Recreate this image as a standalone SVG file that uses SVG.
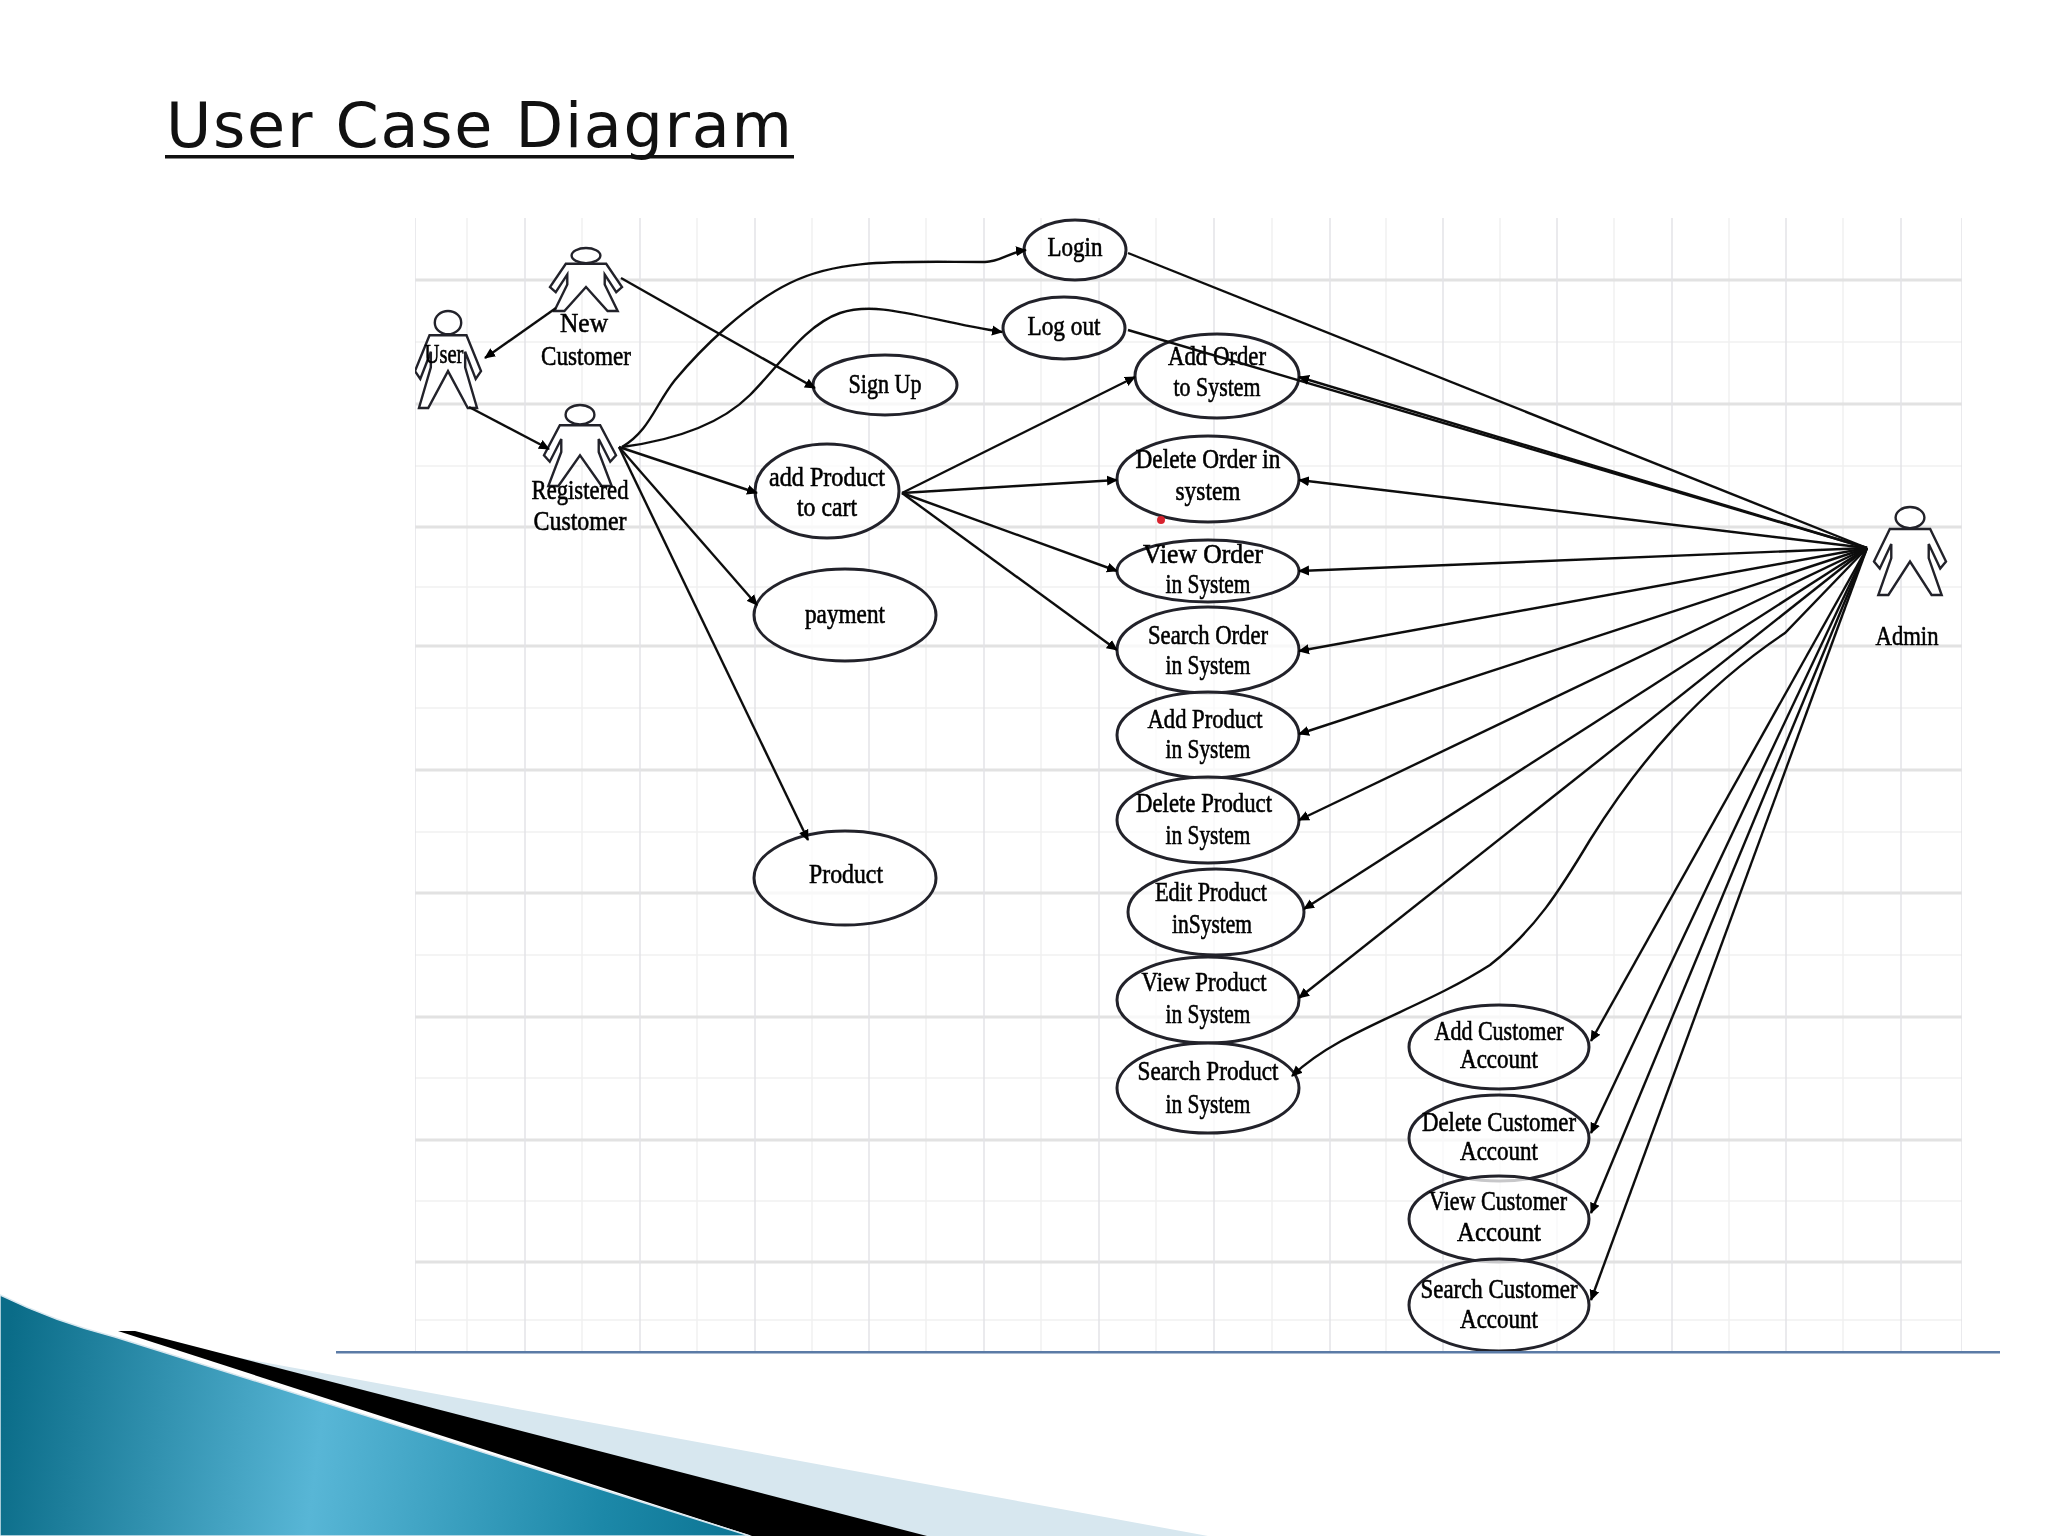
<svg xmlns="http://www.w3.org/2000/svg" width="2048" height="1536" viewBox="0 0 2048 1536">
<style>
.t{font-family:"Liberation Serif","Times New Roman",serif;font-size:28px;fill:#000;stroke:#000;stroke-width:.6;text-anchor:middle}
.u{fill:#fff;fill-opacity:.75;stroke:#22222a;stroke-width:3}
.a{fill:#fff;stroke:#22222a;stroke-width:2.4;vector-effect:non-scaling-stroke}
.c{fill:none;stroke:#111;stroke-width:2.4}
.h{marker-end:url(#ah)}
</style>
<defs>
<marker id="ah" markerUnits="userSpaceOnUse" markerWidth="11" markerHeight="11" refX="10" refY="5.5" orient="auto"><path d="M0,0.5L11,5.5L0,10.5Z" fill="#000"/></marker>
<filter id="soft" x="0" y="0" width="100%" height="100%" filterUnits="objectBoundingBox"><feGaussianBlur stdDeviation="0.7"/></filter>
<linearGradient id="teal" gradientUnits="userSpaceOnUse" x1="0" y1="1400" x2="760" y2="1500"><stop offset="0" stop-color="#0a6c88"/><stop offset=".42" stop-color="#58b6d6"/><stop offset=".8" stop-color="#1c88a8"/><stop offset="1" stop-color="#0b7392"/></linearGradient>
<g id="actor"><ellipse class="a" cx="0" cy="12" rx="20" ry="12"/><path class="a" d="M-28,25L28,25L50,62L42,70L26,42L26,58L44,100L30,100L0,62L-30,100L-44,100L-26,58L-26,42L-42,70L-50,62Z"/></g>
</defs>
<rect width="2048" height="1536" fill="#fff"/>
<text id="title" x="166" y="147" font-family="'DejaVu Sans',Verdana,sans-serif" font-size="62" letter-spacing="1.7" fill="#111">User Case Diagram</text>
<rect x="165" y="155" width="629" height="3.5" fill="#111"/>
<g id="banner">
<path d="M170,1345L1208,1536L920,1536L130,1330Z" fill="#d7e7ef"/>
<path d="M118,1331L135,1331L927,1536L752,1536Z" fill="#000"/>
<path d="M0,1295Q55,1322 115,1337L750,1536L0,1536Z" fill="url(#teal)" stroke="#d7e7ef" stroke-width="1.5"/>
</g>
<g id="slide-figure" filter="url(#soft)">
<g id="grid" fill="none">
<path stroke="#f1f1f1" stroke-width="1.5" d="M415,342H1962M415,466H1962M415,587H1962M415,708H1962M415,832H1962M415,955H1962M415,1078H1962M415,1201H1962M415,1320H1962M467,218V1352M582,218V1352M697,218V1352M812,218V1352M926,218V1352M1041,218V1352M1156,218V1352M1272,218V1352M1386,218V1352M1500,218V1352M1614,218V1352M1729,218V1352M1843,218V1352"/>
<path stroke="#e2e2e2" stroke-width="3" d="M415,280H1962M415,404H1962M415,527H1962M415,646H1962M415,770H1962M415,893H1962M415,1017H1962M415,1140H1962M415,1262H1962"/>
<path stroke="#e4e4e8" stroke-width="1.5" d="M415,218V1352M525,218V1352M640,218V1352M755,218V1352M869,218V1352M984,218V1352M1099,218V1352M1214,218V1352M1330,218V1352M1443,218V1352M1557,218V1352M1672,218V1352M1786,218V1352M1901,218V1352M1962,218V1352"/>
</g>
<g id="node-user"><use href="#actor" transform="translate(448,311) scale(.66,.97)"/><text class="t" x="444" y="363" textLength="39" lengthAdjust="spacingAndGlyphs">User</text></g>
<g id="node-new-customer"><use href="#actor" transform="translate(586,248) scale(.72,.63)"/><text class="t" x="584" y="332" textLength="48" lengthAdjust="spacingAndGlyphs">New</text><text class="t" x="586" y="365" textLength="90" lengthAdjust="spacingAndGlyphs">Customer</text></g>
<g id="node-registered-customer"><use href="#actor" transform="translate(580,405) scale(.72,.81)"/><text class="t" x="580" y="499" textLength="97" lengthAdjust="spacingAndGlyphs">Registered</text><text class="t" x="580" y="530" textLength="93" lengthAdjust="spacingAndGlyphs">Customer</text></g>
<g id="node-admin"><use href="#actor" transform="translate(1910,507) scale(.72,.88)"/><text class="t" x="1907" y="645" textLength="63" lengthAdjust="spacingAndGlyphs">Admin</text></g>
<g id="node-login"><ellipse class="u" cx="1075" cy="250" rx="51" ry="30"/><text class="t" x="1075" y="256" textLength="55" lengthAdjust="spacingAndGlyphs">Login</text></g>
<g id="node-logout"><ellipse class="u" cx="1064" cy="328" rx="61" ry="31"/><text class="t" x="1064" y="335" textLength="73" lengthAdjust="spacingAndGlyphs">Log out</text></g>
<g id="node-signup"><ellipse class="u" cx="885" cy="385" rx="72" ry="30"/><text class="t" x="885" y="393" textLength="73" lengthAdjust="spacingAndGlyphs">Sign Up</text></g>
<g id="node-add-cart"><ellipse class="u" cx="827" cy="491" rx="72" ry="47"/><text class="t" x="827" y="486" textLength="116" lengthAdjust="spacingAndGlyphs">add Product</text><text class="t" x="827" y="516" textLength="60" lengthAdjust="spacingAndGlyphs">to cart</text></g>
<g id="node-payment"><ellipse class="u" cx="845" cy="615" rx="91" ry="46"/><text class="t" x="845" y="623" textLength="80" lengthAdjust="spacingAndGlyphs">payment</text></g>
<g id="node-product"><ellipse class="u" cx="845" cy="878" rx="91" ry="47"/><text class="t" x="846" y="883" textLength="74" lengthAdjust="spacingAndGlyphs">Product</text></g>
<g id="node-add-order"><ellipse class="u" cx="1217" cy="376" rx="82" ry="42"/><text class="t" x="1217" y="365" textLength="98" lengthAdjust="spacingAndGlyphs">Add Order</text><text class="t" x="1217" y="396" textLength="87" lengthAdjust="spacingAndGlyphs">to System</text></g>
<g id="node-delete-order"><ellipse class="u" cx="1208" cy="479" rx="91" ry="43"/><text class="t" x="1208" y="468" textLength="145" lengthAdjust="spacingAndGlyphs">Delete Order in</text><text class="t" x="1208" y="500" textLength="65" lengthAdjust="spacingAndGlyphs">system</text></g>
<g id="node-view-order"><ellipse class="u" cx="1208" cy="571" rx="91" ry="31"/><text class="t" x="1203" y="563" textLength="120" lengthAdjust="spacingAndGlyphs">View Order</text><text class="t" x="1208" y="593" textLength="85" lengthAdjust="spacingAndGlyphs">in System</text></g>
<g id="node-search-order"><ellipse class="u" cx="1208" cy="650" rx="91" ry="43"/><text class="t" x="1208" y="644" textLength="120" lengthAdjust="spacingAndGlyphs">Search Order</text><text class="t" x="1208" y="674" textLength="85" lengthAdjust="spacingAndGlyphs">in System</text></g>
<g id="node-add-product"><ellipse class="u" cx="1208" cy="735" rx="91" ry="43"/><text class="t" x="1205" y="728" textLength="115" lengthAdjust="spacingAndGlyphs">Add Product</text><text class="t" x="1208" y="758" textLength="85" lengthAdjust="spacingAndGlyphs">in System</text></g>
<g id="node-delete-product"><ellipse class="u" cx="1208" cy="820" rx="91" ry="43"/><text class="t" x="1204" y="812" textLength="136" lengthAdjust="spacingAndGlyphs">Delete Product</text><text class="t" x="1208" y="844" textLength="85" lengthAdjust="spacingAndGlyphs">in System</text></g>
<g id="node-edit-product"><ellipse class="u" cx="1216" cy="912" rx="88" ry="43"/><text class="t" x="1211" y="901" textLength="112" lengthAdjust="spacingAndGlyphs">Edit Product</text><text class="t" x="1212" y="933" textLength="80" lengthAdjust="spacingAndGlyphs">inSystem</text></g>
<g id="node-view-product"><ellipse class="u" cx="1208" cy="1000" rx="91" ry="43"/><text class="t" x="1204" y="991" textLength="125" lengthAdjust="spacingAndGlyphs">View Product</text><text class="t" x="1208" y="1023" textLength="85" lengthAdjust="spacingAndGlyphs">in System</text></g>
<g id="node-search-product"><ellipse class="u" cx="1208" cy="1088" rx="91" ry="45"/><text class="t" x="1208" y="1080" textLength="141" lengthAdjust="spacingAndGlyphs">Search Product</text><text class="t" x="1208" y="1113" textLength="85" lengthAdjust="spacingAndGlyphs">in System</text></g>
<g id="node-add-customer"><ellipse class="u" cx="1499" cy="1047" rx="90" ry="42"/><text class="t" x="1499" y="1040" textLength="129" lengthAdjust="spacingAndGlyphs">Add Customer</text><text class="t" x="1499" y="1068" textLength="78" lengthAdjust="spacingAndGlyphs">Account</text></g>
<g id="node-delete-customer"><ellipse class="u" cx="1499" cy="1138" rx="90" ry="43"/><text class="t" x="1499" y="1131" textLength="154" lengthAdjust="spacingAndGlyphs">Delete Customer</text><text class="t" x="1499" y="1160" textLength="78" lengthAdjust="spacingAndGlyphs">Account</text></g>
<g id="node-view-customer"><ellipse class="u" cx="1499" cy="1219" rx="90" ry="43"/><text class="t" x="1498" y="1210" textLength="138" lengthAdjust="spacingAndGlyphs">View Customer</text><text class="t" x="1499" y="1241" textLength="84" lengthAdjust="spacingAndGlyphs">Account</text></g>
<g id="node-search-customer"><ellipse class="u" cx="1499" cy="1305" rx="90" ry="46"/><text class="t" x="1499" y="1298" textLength="157" lengthAdjust="spacingAndGlyphs">Search Customer</text><text class="t" x="1499" y="1328" textLength="78" lengthAdjust="spacingAndGlyphs">Account</text></g>
<g id="connectors">
<path class="c h" d="M556,308L485,358"/>
<path class="c h" d="M469,407L549,449"/>
<path class="c h" d="M621,278L815,388"/>
<path class="c h" d="M622,447C650,430 655,405 675,380C700,350 745,305 790,283C840,258 900,262 985,262C1000,262 1010,252 1026,250"/>
<path class="c h" d="M622,447C675,440 720,425 750,395C780,365 805,325 840,313C880,300 925,320 1002,332"/>
<path class="c h" d="M619,447L757,493"/>
<path class="c h" d="M619,447L757,605"/>
<path class="c h" d="M619,447L808,840"/>
<path class="c h" d="M902,493L1135,377"/>
<path class="c h" d="M902,493L1117,480"/>
<path class="c h" d="M902,493L1117,571"/>
<path class="c h" d="M902,493L1117,650"/>
<path class="c" d="M1128,253L1867,548"/>
<path class="c" d="M1128,330L1867,548"/>
<path class="c h" d="M1867,548L1299,377"/>
<path class="c h" d="M1867,548L1299,480"/>
<path class="c h" d="M1867,548L1299,571"/>
<path class="c h" d="M1867,548L1299,651"/>
<path class="c h" d="M1867,548L1299,734"/>
<path class="c h" d="M1867,548L1299,820"/>
<path class="c h" d="M1867,548L1304,909"/>
<path class="c h" d="M1867,548L1299,998"/>
<path class="c h" d="M1867,548L1785,633C1700,690 1640,760 1590,840C1560,890 1535,930 1490,965C1420,1010 1340,1030 1292,1076"/>
<path class="c h" d="M1867,548L1591,1041"/>
<path class="c h" d="M1867,548L1591,1133"/>
<path class="c h" d="M1867,548L1591,1213"/>
<path class="c h" d="M1867,548L1591,1300"/>
</g>
<circle cx="1161" cy="520" r="4" fill="#d8232e"/>
</g>
<rect id="rule" x="336" y="1351" width="1664" height="2.5" fill="#5b7ba6"/>
</svg>
